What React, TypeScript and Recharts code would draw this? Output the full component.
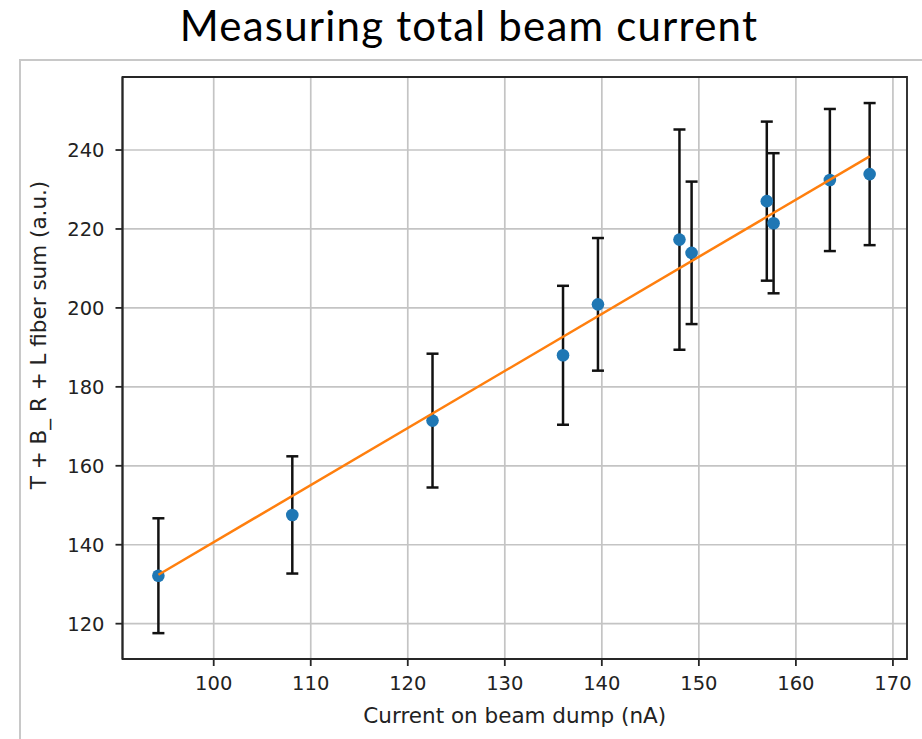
import { ComposedChart, Scatter, ErrorBar, XAxis, YAxis, CartesianGrid, ReferenceArea } from 'recharts';

const currentNA = [94.3, 108.1, 122.55, 136.0, 139.6, 148.0, 149.25, 157.0, 157.7, 163.5, 167.6];
const fiberSum = [132.15, 147.55, 171.45, 188.0, 200.9, 217.3, 213.95, 227.05, 221.45, 232.4, 233.9];
const fiberErr = [14.55, 14.85, 16.95, 17.6, 16.8, 27.9, 18.05, 20.15, 17.75, 18.0, 18.0];

const fitX = [94.3, 167.6];
const fitY = [132.4, 238.4];

const xTicks = [100, 110, 120, 130, 140, 150, 160, 170];
const yTicks = [120, 140, 160, 180, 200, 220, 240];

const points = currentNA.map((x, i) => ({ x, y: fiberSum[i], err: fiberErr[i] }));
const fit = fitX.map((x, i) => ({ x, y: fitY[i] }));

const X_DOMAIN: [number, number] = [90.6, 171.45];
const Y_DOMAIN: [number, number] = [111.05, 258.5];

const tickFont = { fontFamily: '"DejaVu Sans", sans-serif', fontSize: 19.5, fill: '#222' };
const labelFont = { fontFamily: '"DejaVu Sans", sans-serif', fontSize: 21.5, fill: '#222' };

const Dot = (props: any) => <circle cx={props.cx} cy={props.cy} r={6.3} fill="#1f77b4" />;
const NoDot = () => <g />;

export default function App() {
  return (
    <div style={{ position: 'absolute', left: 0, top: 0, width: 922, height: 739, background: '#fff', overflow: 'hidden' }}>
      <div
        style={{
          position: 'absolute', left: 0, top: 0, width: 938, height: 50, textAlign: 'center',
          fontFamily: 'Lato, sans-serif', fontSize: 42, letterSpacing: 1.2, lineHeight: '50px', color: '#000',
        }}
      >
        Measuring total beam current
      </div>
      <div
        style={{
          position: 'absolute', left: 19, top: 59, right: 0, bottom: 0,
          borderLeft: '2px solid #c8c8c8', borderTop: '2px solid #c8c8c8',
        }}
      />
      <div style={{ position: 'absolute', left: 0, top: 0 }}>
        <ComposedChart width={922} height={739} margin={{ top: 77, right: 15, bottom: 0, left: 0 }}>
          <CartesianGrid stroke="#c4c4c4" strokeWidth={1.7} />
          <XAxis
            type="number"
            dataKey="x"
            domain={X_DOMAIN}
            ticks={xTicks}
            allowDataOverflow
            height={80}
            tickSize={7}
            tickMargin={10}
            tick={tickFont}
            stroke="#262626"
            strokeWidth={1.8}
            label={{
              content: (p: any) => (
                <text
                  x={p.viewBox.x + p.viewBox.width / 2}
                  y={715}
                  textAnchor="middle"
                  dominantBaseline="central"
                  style={labelFont}
                >
                  Current on beam dump (nA)
                </text>
              ),
            }}
          />
          <YAxis
            type="number"
            dataKey="y"
            domain={Y_DOMAIN}
            ticks={yTicks}
            allowDataOverflow
            width={122.5}
            tickSize={7}
            tickMargin={11}
            tick={tickFont}
            stroke="#262626"
            strokeWidth={1.8}
            label={{
              content: () => (
                <text
                  x={38}
                  y={335}
                  textAnchor="middle"
                  dominantBaseline="central"
                  transform="rotate(-90, 38, 335)"
                  style={labelFont}
                >
                  T + B_ R + L fiber sum (a.u.)
                </text>
              ),
            }}
          />
          <ReferenceArea
            x1={X_DOMAIN[0]}
            x2={X_DOMAIN[1]}
            y1={Y_DOMAIN[0]}
            y2={Y_DOMAIN[1]}
            fill="none"
            fillOpacity={0}
            stroke="#262626"
            strokeWidth={1.8}
            ifOverflow="visible"
          />
          <Scatter data={points} shape={Dot} isAnimationActive={false}>
            <ErrorBar dataKey="err" direction="y" width={6} stroke="#111" strokeWidth={2.5} />
          </Scatter>
          <Scatter
            data={fit}
            shape={NoDot}
            line={{ stroke: '#ff7f0e', strokeWidth: 2.5 }}
            isAnimationActive={false}
          />
        </ComposedChart>
      </div>
    </div>
  );
}
